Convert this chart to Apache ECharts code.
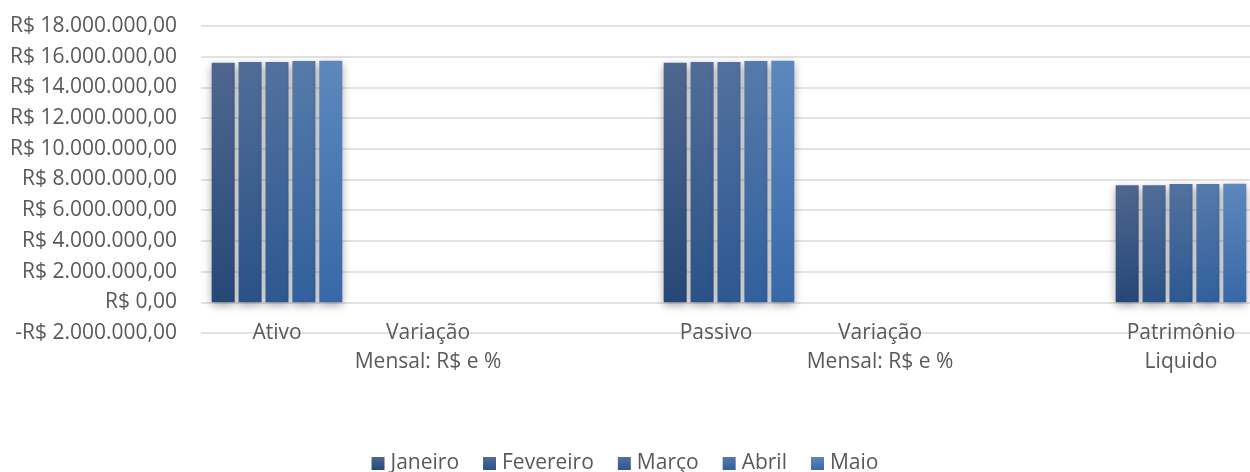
<!DOCTYPE html>
<html>
<head>
<meta charset="utf-8">
<script src="https://cdn.jsdelivr.net/npm/echarts@6/dist/echarts.min.js"></script>
<style>html,body{margin:0;padding:0;background:#fff}#c{width:1250px;height:472px}</style>
</head>
<body>
<div id="c"></div>
<script>
const categories = ['Ativo', 'Variação Mensal: R$ e %', 'Passivo', 'Variação Mensal: R$ e %', 'Patrimônio Liquido'];
const months = ['Janeiro', 'Fevereiro', 'Março', 'Abril', 'Maio'];
const janeiro   = [15600000, null, 15600000, null, 7620000];
const fevereiro = [15650000, null, 15650000, null, 7630000];
const marco     = [15660000, null, 15660000, null, 7700000];
const abril     = [15720000, null, 15720000, null, 7710000];
const maio      = [15730000, null, 15730000, null, 7720000];
const seriesValues = [janeiro, fevereiro, marco, abril, maio];
const yMin = -2000000, yMax = 18000000, yStep = 2000000;

const topColors = ['#4f6790', '#506d98', '#52719f', '#577aaa', '#5d88bd'];
const bottomColors = ['#264877', '#2b5287', '#2e5891', '#31609c', '#3868a8'];
const FONT = 'Open Sans';
const FS = 21;

function brl(v) {
  const neg = v < 0;
  const a = Math.abs(v);
  const s = a.toFixed(0).replace(/\B(?=(\d{3})+(?!\d))/g, '.') + ',00';
  return (neg ? '-' : '') + 'R$ ' + s;
}

const chart = echarts.init(document.getElementById('c'));
chart.setOption({
  animation: false,
  textStyle: { fontFamily: FONT },
  grid: [
    { left: 201, right: 0, top: 26, bottom: 139, outerBoundsMode: 'none', containLabel: false },
    { left: 164, right: -44, top: 26, bottom: 139, outerBoundsMode: 'none', containLabel: false }
  ],
  xAxis: [
    { gridIndex: 0, type: 'category', data: [''], show: false },
    {
      gridIndex: 1, type: 'category', data: categories,
      axisLine: { show: false }, axisTick: { show: false },
      axisLabel: {
        interval: 0, margin: -14, color: '#595959', fontSize: FS, fontFamily: FONT, lineHeight: 29,
        formatter: function (v) {
          if (v.indexOf('Variação') === 0) return '{v|Variação}\n{v|Mensal: R$ e %}';
          if (v === 'Passivo') return '{p|Passivo}';
          if (v === 'Patrimônio Liquido') return 'Patrimônio\nLiquido';
          return v;
        },
        rich: {
          v: { color: '#595959', fontSize: FS, fontFamily: FONT, lineHeight: 29, padding: [0, 150, 0, 0] },
          p: { color: '#595959', fontSize: FS, fontFamily: FONT, lineHeight: 29, padding: [0, 26, 0, 0] }
        }
      }
    }
  ],
  yAxis: [
    {
      gridIndex: 0, type: 'value', min: yMin, max: yMax, interval: yStep,
      axisLine: { show: false }, axisTick: { show: false },
      splitLine: { lineStyle: { color: '#d9d9d9', width: 1.5 } },
      axisLabel: { color: '#595959', fontSize: FS, fontFamily: FONT, margin: 24, formatter: brl }
    },
    {
      gridIndex: 1, type: 'value', min: yMin, max: yMax, interval: yStep,
      axisLine: { show: false }, axisTick: { show: false }, axisLabel: { show: false },
      splitLine: { show: false }
    }
  ],
  legend: {
    bottom: -7, left: 'center', icon: 'rect', itemWidth: 13, itemHeight: 13, itemGap: 24,
    textStyle: { color: '#595959', fontSize: FS, fontFamily: FONT, padding: [0, 0, 0, 1] },
    data: months
  },
  series: months.map(function (m, i) {
    return {
      name: m, type: 'bar', xAxisIndex: 1, yAxisIndex: 1,
      data: seriesValues[i], barWidth: 23, barGap: '17%',
      itemStyle: {
        color: new echarts.graphic.LinearGradient(0, 0, 0, 1, [
          { offset: 0, color: topColors[i] }, { offset: 1, color: bottomColors[i] }
        ]),
        shadowColor: 'rgba(0,0,0,0.35)', shadowBlur: 8, shadowOffsetY: 3
      }
    };
  })
});
</script>
</body>
</html>
